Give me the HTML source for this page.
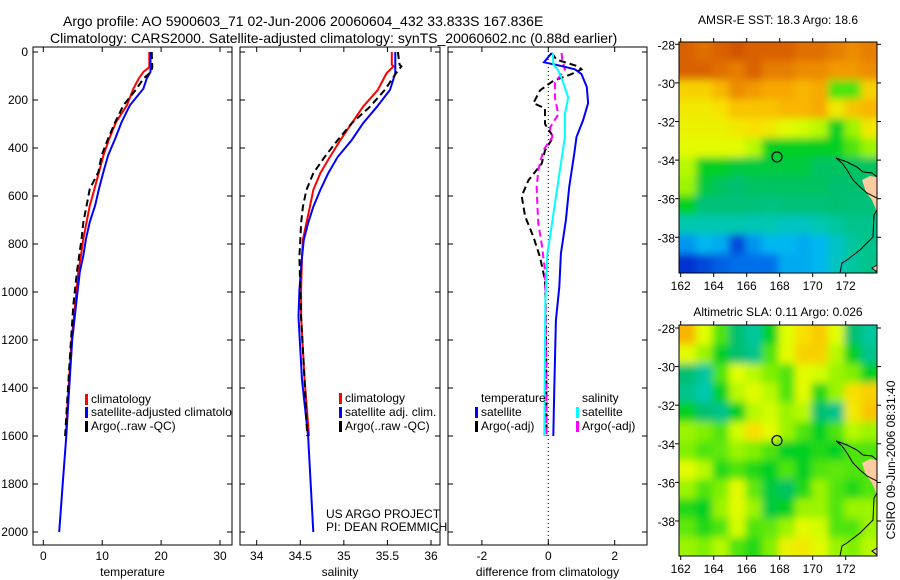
<!DOCTYPE html>
<html><head><meta charset="utf-8"><style>
body{margin:0;background:#fff}
svg{display:block;font-family:"Liberation Sans","DejaVu Sans",sans-serif}
</style></head><body>
<svg id="c" width="900" height="580" xmlns="http://www.w3.org/2000/svg">
<defs>
<filter id="bl" x="-5%" y="-5%" width="110%" height="110%"><feGaussianBlur stdDeviation="4"/></filter>
<clipPath id="cm1"><rect x="679" y="42" width="198" height="231"/></clipPath>
<clipPath id="cm2"><rect x="679" y="325" width="198" height="231"/></clipPath>
<clipPath id="cp1"><rect x="33" y="47" width="199" height="498"/></clipPath>
</defs>
<text x="63" y="26" font-size="14">Argo profile: AO 5900603_71 02-Jun-2006 20060604_432 33.833S 167.836E</text>
<text x="50" y="43" font-size="14">Climatology: CARS2000. Satellite-adjusted climatology: synTS_20060602.nc (0.88d earlier)</text>
<text x="778" y="24" font-size="12" text-anchor="middle">AMSR-E SST: 18.3 Argo: 18.6</text>
<text x="778" y="316" font-size="12" text-anchor="middle">Altimetric SLA: 0.11 Argo: 0.026</text>
<text transform="translate(895,460) rotate(-90)" font-size="12" text-anchor="middle">CSIRO 09-Jun-2006 08:31:40</text>
<g id="g"></g>
</svg>
<script>
// ---- data ----
const tempDepth = [0,63,83,111,153,222,292,361,431,500,570,640,708,778,847,917,1056,1200,1400,1600,1800,2000];
const tempSat   = [18.2,18.2,18.2,17.55,17.0,14.7,13.3,12.2,11.0,10.2,9.45,8.8,7.9,7.25,6.8,6.2,5.55,4.9,4.4,3.9,3.3,2.7];
const tempClim  = [18.0,18.0,17.0,16.2,15.3,14.2,12.35,11.2,10.2,9.45,8.7,7.9,7.35,6.8,6.4,5.95,5.4,4.8,4.3,3.8];
const tempArgo  = [18.4,18.5,18.3,17.0,15.85,13.6,12.2,11.0,9.9,9.35,7.9,7.35,6.8,6.5,6.1,5.7,5.1,4.7,4.2,3.7];
const salDepth = [0,53,60,88,158,228,297,367,437,505,575,645,713,783,854,992,1104,1367,1600,1800,2000];
const salSat   = [35.59,35.59,35.59,35.59,35.53,35.38,35.22,35.09,34.93,34.82,34.73,34.65,34.59,34.54,34.52,34.49,34.48,34.52,34.59,34.62,34.65];
const salClim  = [35.55,35.55,35.57,35.49,35.39,35.22,35.09,34.96,34.84,34.73,34.65,34.61,34.57,34.53,34.52,34.51,34.51,34.55,34.6];
const salArgo  = [35.62,35.64,35.66,35.6,35.47,35.3,35.09,34.93,34.78,34.65,34.57,34.53,34.51,34.5,34.49,34.5,34.51,34.55,34.58];
const dTsatDepth = [4,43,57,72,92,146,213,283,354,425,563,700,840,979,1118,1400,1600];
const dTsat      = [0.1,-0.13,0.35,0.8,1.0,1.16,1.2,1.05,0.85,0.78,0.63,0.53,0.38,0.33,0.23,0.18,0.15];
const dSsatDepth = [4,50,78,120,190,260,354,492,632,770,840,1050,1400,1600];
const dSsat      = [0.14,0.15,0.3,0.43,0.6,0.5,0.5,0.35,0.2,0.05,-0.03,-0.09,-0.11,-0.12];
const dSargoDepth = [4,32,72,128,190,260,315,354,410,492,563,632,715,800,910,1050,1400,1600];
const dSargo      = [0.4,0.42,0.5,0.2,0.2,0.3,0.05,0.12,-0.15,-0.3,-0.35,-0.33,-0.3,-0.2,-0.1,-0.08,-0.06,-0.05];
const dTargoDepth = [4,32,60,72,92,120,160,213,235,300,354,410,465,535,600,685,770,855,950,1050,1300,1600];
const dTargo      = [0.1,0.25,0.9,1.0,0.7,0.15,-0.25,-0.45,-0.1,-0.1,0.15,-0.1,-0.2,-0.6,-0.8,-0.7,-0.45,-0.25,-0.1,-0.08,-0.06,-0.05];
const depthTicks = [0,200,400,600,800,1000,1200,1400,1600,1800,2000];
const tempTicks = [0,10,20,30];
const salTicks = [34,34.5,35,35.5,36];
const diffTicks = [-2,0,2];
const latTicks = [-28,-30,-32,-34,-36,-38];
const lonTicks = [162,164,166,168,170,172];
const sstGrid = [
[.9,.88,.9,.92,.9,.9,.9,.88,.88,.86,.84,.86],
[.9,.9,.88,.86,.9,.86,.86,.84,.84,.82,.82,.84],
[.74,.74,.78,.84,.82,.8,.8,.78,.8,.55,.55,.74],
[.7,.7,.72,.76,.76,.76,.78,.78,.8,.7,.76,.78],
[.68,.68,.68,.7,.72,.7,.66,.64,.62,.5,.6,.7],
[.66,.66,.66,.66,.62,.5,.5,.5,.5,.5,.55,.6],
[.62,.5,.5,.48,.48,.48,.48,.48,.46,.46,.46,.46],
[.6,.48,.46,.45,.46,.46,.46,.46,.46,.45,.45,.45],
[.5,.44,.44,.44,.44,.43,.44,.44,.44,.45,.44,.44],
[.38,.38,.38,.38,.37,.38,.36,.36,.38,.4,.42,.42],
[.25,.3,.28,.15,.25,.3,.3,.28,.3,.35,.4,.42],
[.12,.15,.18,.2,.2,.2,.28,.28,.3,.36,.4,.42]];
const slaGrid = [
[.78,.65,.55,.45,.4,.5,.65,.72,.75,.65,.45,.4],
[.66,.6,.5,.45,.42,.55,.66,.74,.74,.62,.5,.42],
[.45,.4,.55,.65,.62,.58,.55,.66,.64,.6,.58,.5],
[.42,.38,.5,.62,.66,.62,.55,.66,.52,.6,.72,.74],
[.5,.45,.42,.5,.62,.64,.6,.62,.45,.42,.7,.76],
[.6,.58,.55,.64,.72,.66,.6,.55,.5,.55,.62,.6],
[.58,.55,.56,.6,.58,.55,.5,.5,.52,.5,.55,.55],
[.66,.62,.52,.55,.52,.5,.55,.5,.55,.56,.55,.55],
[.6,.55,.58,.66,.56,.48,.46,.52,.6,.55,.52,.55],
[.52,.5,.6,.66,.6,.48,.5,.6,.6,.55,.6,.6],
[.56,.52,.55,.64,.55,.56,.6,.66,.64,.55,.55,.6],
[.6,.58,.62,.55,.52,.58,.68,.7,.66,.6,.58,.62]];
const argoLon = 167.836, argoLat = -33.833;

// ---- helpers ----
const NS='http://www.w3.org/2000/svg', G=document.getElementById('g');
function mk(tag,attrs,parent){const e=document.createElementNS(NS,tag);for(const k in attrs)e.setAttribute(k,attrs[k]);(parent||G).appendChild(e);return e;}
const Y0=52, YS=0.24;
const yD = d => Y0 + d*YS;
function lin(v0,p0,v1,p1){return v=>p0+(v-v0)*(p1-p0)/(v1-v0);}
const xT = lin(0,43.3,10,102.2);
const xS = lin(34,256.7,36,431);
const xD = lin(0,548.3,2,614.7);

function panel(x0,x1,name,xs,ticks,fmt,label,yLabels){
  const top=47,bot=545;
  const f=mk('rect',{x:x0,y:top,width:x1-x0,height:bot-top,fill:'none',stroke:'#000','stroke-width':1});
  
  
  depthTicks.forEach(d=>{
    const y=yD(d);
    mk('line',{x1:x0,x2:x0+5,y1:y,y2:y,stroke:'#000'});
    mk('line',{x1:x1,x2:x1-5,y1:y,y2:y,stroke:'#000'});
    if(yLabels){const t=mk('text',{x:x0-5,y:y+4,'font-size':12,'text-anchor':'end'});t.textContent=d;
      
      }
  });
  ticks.forEach(v=>{
    const x=xs(v);
    mk('line',{x1:x,x2:x,y1:bot,y2:bot-5,stroke:'#000'});
    mk('line',{x1:x,x2:x,y1:top,y2:top+5,stroke:'#000'});
    const t=mk('text',{x:x,y:560,'font-size':12,'text-anchor':'middle'});t.textContent=fmt(v);
    
    
  });
  const l=mk('text',{x:(x0+x1)/2,y:576,'font-size':12,'text-anchor':'middle'});l.textContent=label;
  
  
}
function series(xs,vals,depths,color,dash,name){
  const pts=vals.map((v,i)=>xs(v).toFixed(1)+','+yD(depths[i]).toFixed(1)).join(' ');
  const p=mk('polyline',{points:pts,fill:'none',stroke:color,'stroke-width':2,'stroke-dasharray':dash||'none'});
  
  
}
function legend(x,y,color,text,name,parent){
  mk('rect',{x:x-6,y:y-9,width:3,height:11,fill:color},parent);
  const t=mk('text',{x:x,y:y,'font-size':12},parent);t.textContent=text;
  
  
}

// ---- profile panels ----
panel(33,232,'temperature-panel',xT,tempTicks,v=>v,'temperature',true);
series(xT,tempClim,tempDepth,'#f00',null,'temp-climatology-line');
series(xT,tempSat,tempDepth,'#00f',null,'temp-satellite-line');
series(xT,tempArgo,tempDepth,'#000','7,4','temp-argo-line');
const lg1=mk('g',{'clip-path':'url(#cp1)'});
legend(91,403,'#f00','climatology','legend-climatology',lg1);
legend(91,416,'#00f','satellite-adjusted climatology','legend-satellite-adjusted',lg1);
legend(91,430,'#000','Argo(..raw -QC)','legend-argo',lg1);

panel(240,440,'salinity-panel',xS,salTicks,v=>v,'salinity',false);
series(xS,salClim,salDepth,'#f00',null,'sal-climatology-line');
series(xS,salSat,salDepth,'#00f',null,'sal-satellite-line');
series(xS,salArgo,salDepth,'#000','7,4','sal-argo-line');
legend(345,402,'#f00','climatology','legend-sal-climatology');
legend(345,416,'#00f','satellite adj. clim.','legend-sal-satellite');
legend(345,430,'#000','Argo(..raw -QC)','legend-sal-argo');
[['US ARGO PROJECT',518],['PI: DEAN ROEMMICH',531]].forEach(a=>{const t=mk('text',{x:326,y:a[1],'font-size':12});t.textContent=a[0];
  
  });

panel(448,647,'difference-panel',xD,diffTicks,v=>v,'difference from climatology',false);
mk('line',{x1:xD(0),x2:xD(0),y1:47,y2:545,stroke:'#000','stroke-dasharray':'1,3'});
series(xD,dTargo,dTargoDepth,'#000','7,4','diff-temp-argo-line');
series(xD,dSargo,dSargoDepth,'#f0f','7,4','diff-sal-argo-line');
series(xD,dTsat,dTsatDepth,'#00f',null,'diff-temp-satellite-line');
series(xD,dSsat,dSsatDepth,'#0ff',null,'diff-sal-satellite-line');
{const t=mk('text',{x:481,y:402,'font-size':12});t.textContent='temperature';
 
 
 const s=mk('text',{x:582,y:402,'font-size':12});s.textContent='salinity';
 
 }
legend(481,416,'#00f','satellite','legend-diff-temp-satellite');
legend(481,430,'#000','Argo(-adj)','legend-diff-temp-argo');
legend(582,416,'#0ff','satellite','legend-diff-sal-satellite');
legend(582,430,'#f0f','Argo(-adj)','legend-diff-sal-argo');

// ---- maps ----
const stops=[[0,[0,0,140]],[.12,[0,48,208]],[.22,[0,128,240]],[.3,[0,184,240]],[.38,[0,200,176]],[.45,[0,192,112]],[.5,[0,208,32]],[.58,[128,240,0]],[.65,[224,255,0]],[.72,[248,224,0]],[.8,[248,168,0]],[.88,[224,112,0]],[.95,[200,64,0]],[1,[190,50,0]]];
function cmap(v){for(let i=1;i<stops.length;i++){if(v<=stops[i][0]){const a=stops[i-1],b=stops[i],t=(v-a[0])/(b[0]-a[0]);
  return 'rgb('+a[1].map((c,k)=>Math.round(c+(b[1][k]-c)*t)).join(',')+')';}}return 'rgb(190,50,0)';}
const xLon = lin(162,680.7,172,845.7);
// coastline outlines in pixel offsets relative to top map frame
const coastA=[[836,158],[842,163],[847,170],[853,180],[860,187],[867,193],[877,198]];
const coastB=[[836,158],[847,162],[857,167],[863,172],[872,173],[877,177]];
const coastC=[[877,210],[874,215],[873,237],[860,250],[847,260],[842,263],[840,273]];
const landA=[[862,180],[870,176],[877,177],[877,212],[872,200],[866,192]];
function mapPanel(grid,yTop,lat28y,name,clip){
  const yLat = lin(-28,lat28y,-38,lat28y+193);
  const off=yTop-42;
  const gc=mk('g',{'clip-path':'url(#'+clip+')'});
  const gb=mk('g',{filter:'url(#bl)'},gc);
  
  
  for(let r=-1;r<=12;r++)for(let c=-1;c<=12;c++){
    const rr=Math.min(11,Math.max(0,r)),cc=Math.min(11,Math.max(0,c));
    const x=xLon(162+c-0.08), y=yLat(-28-r+0.15);
    const cell=mk('rect',{x:x,y:y,width:16.8,height:19.7,fill:cmap(grid[rr][cc])},gb);
    
    
  }
  const P=a=>a.map(p=>p[0]+','+(p[1]+off)).join(' ');
  const land=mk('polygon',{points:P(landA),fill:'#fccca0',stroke:'none'},gc);
  
  
  [coastA,coastB,coastC].forEach(cA=>{
    const l=mk('polyline',{points:P(cA),fill:'none',stroke:'#000','stroke-width':1},gc);
    
    
  });
  mk('polygon',{points:P([[877,265],[872,268],[877,272]]),fill:'#fccca0',stroke:'#000'},gc);
  const ci=mk('circle',{cx:xLon(argoLon),cy:yLat(argoLat),r:5,fill:'none',stroke:'#000','stroke-width':1.2});
  
  
  const fr=mk('rect',{x:679,y:yTop,width:198,height:231,fill:'none',stroke:'#000'});
  
  
  latTicks.forEach(l=>{const y=yLat(l);
    mk('line',{x1:679,x2:675,y1:y,y2:y,stroke:'#000'});mk('line',{x1:877,x2:881,y1:y,y2:y,stroke:'#000'});
    const t=mk('text',{x:675,y:y+5,'font-size':12,'text-anchor':'end'});t.textContent=l;
    
    });
  lonTicks.forEach(l=>{const x=xLon(l);
    mk('line',{x1:x,x2:x,y1:yTop+231,y2:yTop+235,stroke:'#000'});mk('line',{x1:x,x2:x,y1:yTop,y2:yTop-4,stroke:'#000'});
    const t=mk('text',{x:x,y:yTop+248,'font-size':12,'text-anchor':'middle'});t.textContent=l;
    
    });
}
mapPanel(sstGrid,42,44.3,'sst-map','cm1');
mapPanel(slaGrid,325,328,'sla-map','cm2');
</script>
</body></html>
